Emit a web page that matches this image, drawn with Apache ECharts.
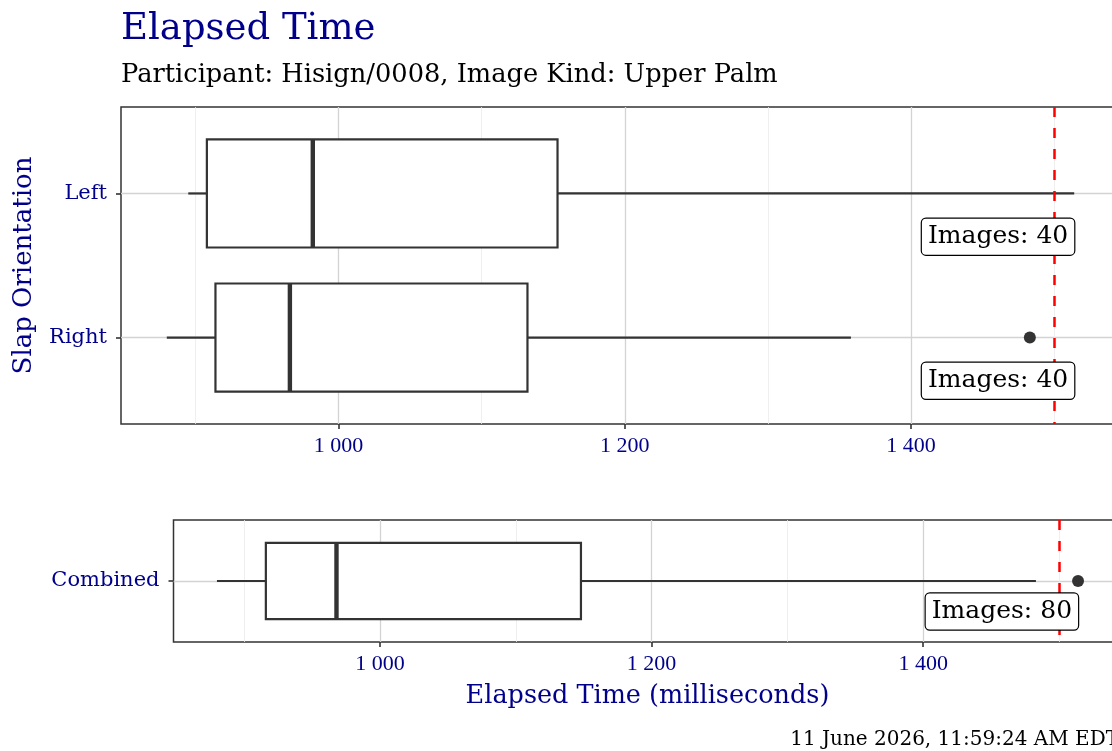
<!DOCTYPE html>
<html lang="en">

<head>
  <meta charset="UTF-8">
  <title>Elapsed Time</title>
  <script src="https://cdn.jsdelivr.net/npm/echarts@6.0.0/dist/echarts.min.js"></script>
  <style>
    html, body { margin: 0; padding: 0; background: #fff; }
    #chart { width: 1112px; height: 751px; }
  </style>
</head>

<body>
  <div id="chart"></div>

  <script>
    // box stats (milliseconds)
    const categories = ['Left', 'Right']
    const boxMin = [895, 880]
    const boxQ1 = [908, 914]
    const boxMedian = [982, 966]
    const boxQ3 = [1153, 1132]
    const boxMax = [1514, 1358]
    const outliers = [[1483, 'Right']]
    const imageCounts = [40, 40]

    const combinedLabel = 'Combined'
    const combinedStats = [880, 916, 968, 1148, 1483]
    const combinedOutliers = [1514]
    const combinedCount = 80

    const threshold = 1500
    const majorTicks = [1000, 1200, 1400]
    const minorTicks = [900, 1100, 1300, 1500]
    const xMin = 848
    const xMax = 1546

    const serif = 'DejaVu Serif'
    const tickFont = 'Liberation Serif'
    const blue = '#00008B'
    const ink = '#333333'

    const labelX = Math.max(...boxMax, ...outliers.map(o => o[0]))

    function fmtThousands(v) {
      if (v < 1000) return String(v)
      return Math.floor(v / 1000) + ' ' + String(v % 1000).padStart(3, '0')
    }

    function renderBox(params, api) {
      const y = api.value(0)
      const half = 0.375
      const lo = api.coord([api.value(1), y])
      const a = api.coord([api.value(2), y - half])
      const b = api.coord([api.value(4), y + half])
      const m1 = api.coord([api.value(3), y - half])
      const m2 = api.coord([api.value(3), y + half])
      const hi = api.coord([api.value(5), y])
      const line = { stroke: ink, lineWidth: 2.2 }
      return {
        type: 'group',
        children: [
          { type: 'line', shape: { x1: lo[0], y1: lo[1], x2: a[0], y2: lo[1] }, style: line },
          { type: 'line', shape: { x1: b[0], y1: hi[1], x2: hi[0], y2: hi[1] }, style: line },
          {
            type: 'rect',
            shape: { x: Math.min(a[0], b[0]), y: Math.min(a[1], b[1]), width: Math.abs(b[0] - a[0]), height: Math.abs(b[1] - a[1]) },
            style: { fill: '#fff', stroke: ink, lineWidth: 2.2 }
          },
          { type: 'line', shape: { x1: m1[0], y1: m1[1], x2: m2[0], y2: m2[1] }, style: { stroke: ink, lineWidth: 4.4 } }
        ]
      }
    }

    const topBoxes = categories.map((c, i) => [i + 1, boxMin[i], boxQ1[i], boxMedian[i], boxQ3[i], boxMax[i]])
    const topOutliers = outliers.map(o => [o[0], categories.indexOf(o[1]) + 1])
    const topLabels = categories.map((c, i) => [labelX, i + 1.3, imageCounts[i]])
    const bottomBoxes = [[1].concat(combinedStats)]
    const bottomOutliers = combinedOutliers.map(v => [v, 1])
    const bottomLabels = [[labelX, 1.3, combinedCount]]

    function xAxisPair(gridIndex, withName) {
      return [{
        gridIndex: gridIndex,
        type: 'value',
        min: xMin,
        max: xMax,
        axisLine: { show: false },
        axisTick: { customValues: majorTicks, length: 5, lineStyle: { color: ink, width: 1.6 } },
        axisLabel: {
          customValues: majorTicks,
          formatter: fmtThousands,
          color: blue,
          fontFamily: tickFont,
          fontSize: 22,
          margin: 11
        },
        splitLine: { lineStyle: { color: '#d3d3d3', width: 1.3 } },
        name: withName ? 'Elapsed Time (milliseconds)' : '',
        nameLocation: 'middle',
        nameGap: 41,
        nameTextStyle: { color: blue, fontFamily: serif, fontSize: 25.5 }
      }, {
        gridIndex: gridIndex,
        type: 'value',
        min: xMin,
        max: xMax,
        position: 'bottom',
        axisLine: { show: false },
        axisTick: { show: false, customValues: minorTicks },
        axisLabel: { show: false },
        splitLine: { lineStyle: { color: '#ebebeb', width: 0.8 } }
      }]
    }

    function yAxisFor(gridIndex, max, ticks, names, withName) {
      return {
        gridIndex: gridIndex,
        type: 'value',
        min: 0.4,
        max: max,
        inverse: true,
        axisLine: { show: false },
        axisTick: { customValues: ticks, length: 5, lineStyle: { color: ink, width: 1.6 } },
        axisLabel: {
          customValues: ticks,
          formatter: v => names[Math.round(v) - 1],
          color: blue,
          fontFamily: serif,
          fontSize: 21,
          margin: 14
        },
        splitLine: { lineStyle: { color: '#d3d3d3', width: 1.3 } },
        name: withName ? 'Slap Orientation' : '',
        nameLocation: 'middle',
        nameRotate: 90,
        nameGap: 84,
        nameTextStyle: { color: blue, fontFamily: serif, fontSize: 26 }
      }
    }

    function countLabel() {
      return {
        show: true,
        position: 'left',
        distance: 0,
        formatter: p => 'Images: ' + p.value[2],
        color: '#000',
        fontFamily: serif,
        fontSize: 25,
        backgroundColor: '#fff',
        borderColor: '#000',
        borderWidth: 1.2,
        borderRadius: 4,
        padding: [6, 6, 5, 6]
      }
    }

    function thresholdLine() {
      return {
        silent: true,
        symbol: 'none',
        label: { show: false },
        lineStyle: { color: '#ff0000', type: [10, 11], width: 2.5 },
        data: [{ xAxis: threshold }]
      }
    }

    const chart = echarts.init(document.getElementById('chart'))
    chart.setOption({
      animation: false,
      backgroundColor: '#fff',
      title: [{
        text: 'Elapsed Time',
        left: 116,
        top: 6,
        textStyle: { color: blue, fontFamily: serif, fontWeight: 'normal', fontSize: 37 }
      }, {
        text: 'Participant: Hisign/0008, Image Kind: Upper Palm',
        left: 116,
        top: 57,
        textStyle: { color: '#000', fontFamily: serif, fontWeight: 'normal', fontSize: 25.7 }
      }, {
        text: '11 June 2026, 11:59:24 AM EDT',
        right: -12,
        top: 725,
        textStyle: { color: '#000', fontFamily: serif, fontWeight: 'normal', fontSize: 20 }
      }],
      grid: [{
        left: 121, top: 107, width: 999, height: 317,
        outerBoundsMode: 'none',
        show: true, borderColor: ink, borderWidth: 1.5, backgroundColor: '#fff'
      }, {
        left: 173.5, top: 520, width: 948, height: 122,
        outerBoundsMode: 'none',
        show: true, borderColor: ink, borderWidth: 1.5, backgroundColor: '#fff'
      }],
      xAxis: xAxisPair(0, false).concat(xAxisPair(1, true)),
      yAxis: [
        yAxisFor(0, 2.6, [1, 2], categories, true),
        yAxisFor(1, 1.6, [1], [combinedLabel], false)
      ],
      series: [{
        type: 'custom',
        xAxisIndex: 0,
        yAxisIndex: 0,
        renderItem: renderBox,
        encode: { x: [1, 2, 3, 4, 5], y: 0 },
        data: topBoxes,
        z: 3
      }, {
        type: 'scatter',
        xAxisIndex: 0,
        yAxisIndex: 0,
        symbolSize: 12,
        itemStyle: { color: ink, opacity: 1 },
        data: topOutliers,
        z: 4
      }, {
        type: 'scatter',
        xAxisIndex: 0,
        yAxisIndex: 0,
        symbolSize: 0,
        itemStyle: { opacity: 1 },
        label: countLabel(),
        data: topLabels,
        markLine: thresholdLine(),
        z: 5
      }, {
        type: 'custom',
        xAxisIndex: 2,
        yAxisIndex: 1,
        renderItem: renderBox,
        encode: { x: [1, 2, 3, 4, 5], y: 0 },
        data: bottomBoxes,
        z: 3
      }, {
        type: 'scatter',
        xAxisIndex: 2,
        yAxisIndex: 1,
        symbolSize: 12,
        itemStyle: { color: ink, opacity: 1 },
        data: bottomOutliers,
        z: 4
      }, {
        type: 'scatter',
        xAxisIndex: 2,
        yAxisIndex: 1,
        symbolSize: 0,
        itemStyle: { opacity: 1 },
        label: countLabel(),
        data: bottomLabels,
        markLine: thresholdLine(),
        z: 5
      }]
    })
  </script>
</body>

</html>
